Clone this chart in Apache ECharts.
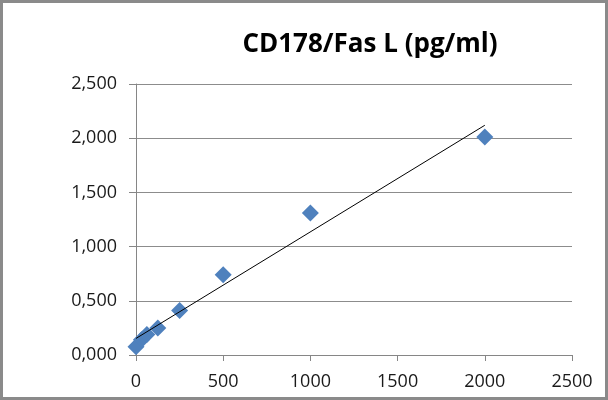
<!DOCTYPE html>
<html>
<head>
<meta charset="utf-8">
<script src="https://cdn.jsdelivr.net/npm/echarts@6/dist/echarts.min.js"></script>
<style>
html,body{margin:0;padding:0;background:#fff;}
#frame{position:absolute;left:0;top:0;width:608px;height:400px;box-sizing:border-box;border:3px solid #8a8a8a;}
#chart{position:absolute;left:0;top:0;width:608px;height:400px;}
</style>
</head>
<body>
<div id="chart"></div>
<div id="frame"></div>
<script>
var titleText = 'CD178/Fas L (pg/ml)';
var concentrations = [0, 31.25, 62.5, 125, 250, 500, 1000, 2000];
var absorbance = [0.075, 0.14, 0.19, 0.25, 0.41, 0.74, 1.31, 2.01];
var xTicks = [0, 500, 1000, 1500, 2000, 2500];
var yTicks = [0, 0.5, 1, 1.5, 2, 2.5];

// linear least-squares trendline from the data
var n = concentrations.length, sx = 0, sy = 0, sxx = 0, sxy = 0;
for (var i = 0; i < n; i++) {
  sx += concentrations[i]; sy += absorbance[i];
  sxx += concentrations[i] * concentrations[i];
  sxy += concentrations[i] * absorbance[i];
}
var slope = (n * sxy - sx * sy) / (n * sxx - sx * sx);
var intercept = (sy - slope * sx) / n;
var xMinData = Math.min.apply(null, concentrations), xMaxData = Math.max.apply(null, concentrations);
var trend = [[xMinData, intercept + slope * xMinData], [xMaxData, intercept + slope * xMaxData]];

var points = concentrations.map(function (x, i) { return [x, absorbance[i]]; });

var fontFam = '"Open Sans", "Noto Sans", sans-serif';
var chart = echarts.init(document.getElementById('chart'), null, {renderer: 'canvas'});
chart.setOption({
  animation: false,
  backgroundColor: '#fff',
  title: {
    text: titleText,
    left: 365, top: 27, textAlign: 'center',
    textStyle: {fontFamily: fontFam, fontWeight: 'bold', fontSize: 26, color: '#000'}
  },
  grid: {left: 136, right: 36, top: 84, bottom: 45},
  xAxis: {
    type: 'value', min: xTicks[0], max: xTicks[xTicks.length - 1], interval: 500,
    axisLine: {show: true, lineStyle: {color: '#868686', width: 1}},
    axisTick: {show: true, length: 6, lineStyle: {color: '#868686'}},
    splitLine: {show: false},
    axisLabel: {margin: 18, fontFamily: fontFam, fontSize: 18, color: '#1a1a1a',
      formatter: function (v) { return String(v); }}
  },
  yAxis: {
    type: 'value', min: yTicks[0], max: yTicks[yTicks.length - 1], interval: 0.5,
    axisLine: {show: true, lineStyle: {color: '#868686', width: 1}},
    axisTick: {show: true, inside: false, length: 7, lineStyle: {color: '#868686'}},
    splitLine: {show: true, lineStyle: {color: '#8c8c8c', width: 1}},
    axisLabel: {
      margin: 19, fontFamily: fontFam, fontSize: 18, color: '#1a1a1a',
      formatter: function (v) { return v.toFixed(3).replace('.', ','); }
    }
  },
  series: [
    {
      type: 'line', data: trend, symbol: 'none', z: 3,
      lineStyle: {color: '#000', width: 1}
    },
    {
      type: 'scatter', data: points, symbol: 'diamond', symbolSize: 17, z: 2,
      itemStyle: {color: '#4F81BD', opacity: 1}
    }
  ]
});
</script>
</body>
</html>
